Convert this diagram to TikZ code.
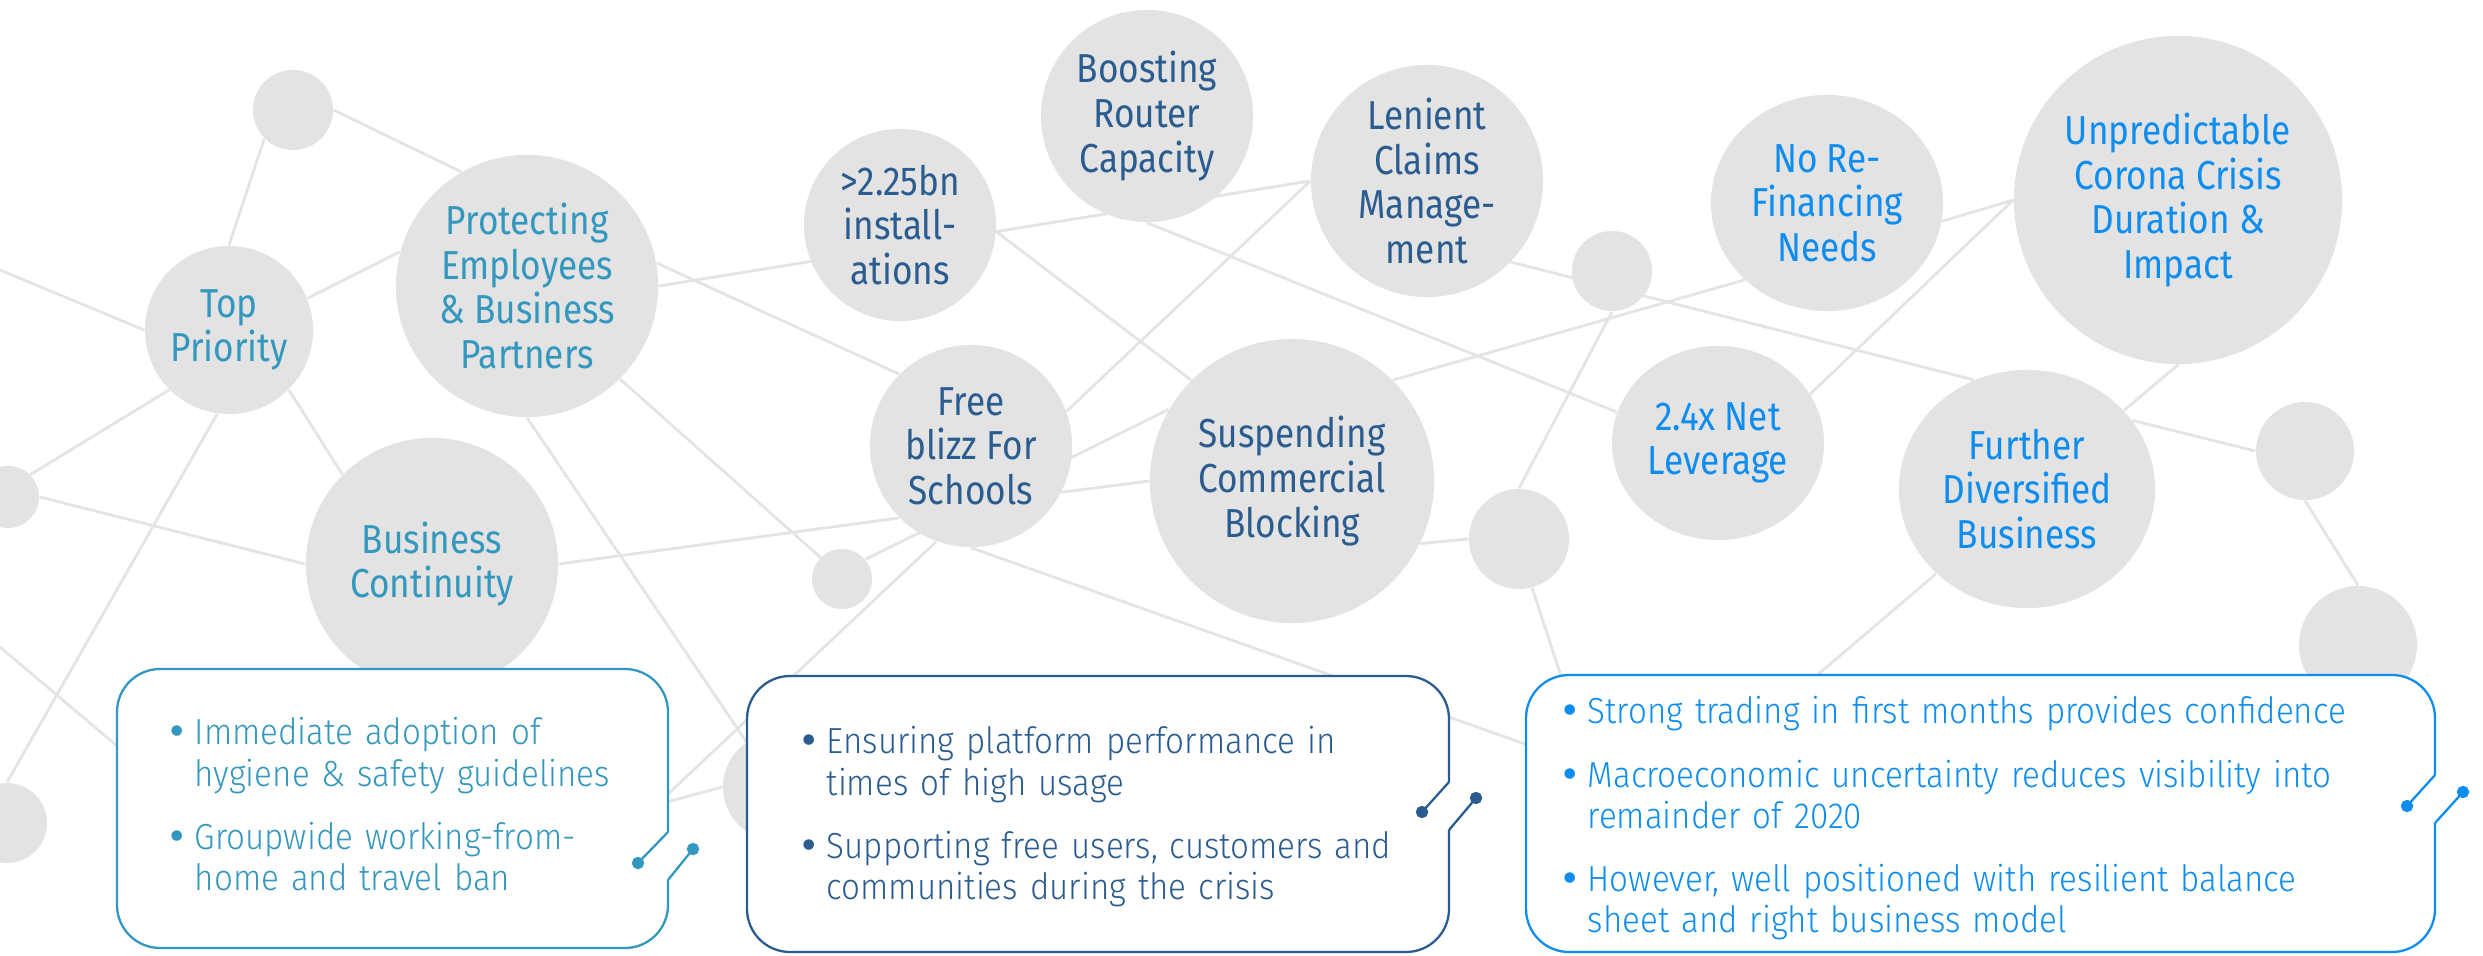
\documentclass[tikz,border=0pt]{standalone}
\usepackage{fontspec}
\setmainfont{Fira Sans}[UprightFont={* Light},FakeStretch=0.915]
\newfontfamily\bubfont{Fira Sans}[FakeStretch=0.87]
\newfontfamily\dotfont{DejaVu Sans}
\usetikzlibrary{shapes.geometric,backgrounds}
\definecolor{cteal}{HTML}{3497BD}
\definecolor{cnavy}{HTML}{2B5C8F}
\definecolor{cazure}{HTML}{0E8DEE}
\definecolor{cbub}{HTML}{E3E3E3}
\definecolor{clink}{HTML}{E4E4E4}
% bullet line with hanging indent, gap between bullets
\newcommand\bitem[1]{\hangindent=0.28cm\hangafter=1\noindent\makebox[0.28cm][l]{\dotfont\textbullet}#1\par}
\newcommand\bgap{\vspace{0.22cm}}
\tikzset{
 bub/.style={ellipse, fill=cbub, inner sep=-6mm, minimum size=#1, align=center,
 font=\bubfont\fontsize{11.5}{12.7}\selectfont},
 lnk/.style={draw=clink, line width=0.8pt},
 frame/.style={draw=#1, fill=white, line width=0.65pt, rounded corners=0.43cm},
 plug/.style={draw=#1, fill=#1, line width=0.65pt},
 btxt/.style={anchor=north west, inner sep=0pt, text width=9cm,
 font=\fontsize{10.3}{11.7}\selectfont},
}

\begin{document}
\begin{tikzpicture}[x=0.01cm, y=-0.01cm]
 \useasboundingbox (0,0) rectangle (2483,955);
 % bubbles, left group
 \node[bub=0.8cm] (S0) at (293,110) {};
 \node[bub=1.68cm, text=cteal] (TP) at (229,330) {Top\\Priority};
 \node[bub=2.62cm, text=cteal] (PE) at (527,286) {Protecting\\Employees\\\& Business\\Partners};
 \node[bub=2.52cm, text=cteal] (BC) at (432,564) {Business\\Continuity};
 \node[bub=0.62cm] (LS) at (8,497) {};
 \node[bub=0.8cm] (BL) at (7,823) {};
 % bubbles, middle group
 \node[bub=1.92cm, text=cnavy] (IN) at (900,225) {>2.25bn\\install-\\ations};
 \node[bub=2.12cm, text=cnavy] (BR) at (1147,116) {Boosting\\Router\\Capacity};
 \node[bub=2.32cm, text=cnavy] (LC) at (1427,181) {Lenient\\Claims\\Manage-\\ment};
 \node[bub=2.02cm, text=cnavy] (FB) at (971,446) {Free\\blizz For\\Schools};
 \node[bub=2.84cm, text=cnavy] (SC) at (1292,481) {Suspending\\Commercial\\Blocking};
 \node[bub=0.6cm] (S1) at (842,579) {};
 \node[bub=1.08cm] (H2) at (777,787) {};
 \node[bub=1cm] (M) at (1519,539) {};
 \node[bub=0.8cm] (S2) at (1612,271) {};
 % bubbles, right group
 \node[bub=2.2cm, minimum width=2.32cm, minimum height=2.16cm, text=cazure] (NR) at (1827,203) {No Re-\\Financing\\Needs};
 \node[bub=3.28cm, text=cazure] (UC) at (2178,200) {Unpredictable\\Corona Crisis\\Duration \&\\Impact};
 \node[bub=2cm, minimum width=2.12cm, minimum height=1.94cm, text=cazure] (NL) at (1718,443) {2.4x Net\\Leverage};
 \node[bub=2.4cm, minimum width=2.56cm, minimum height=2.38cm, text=cazure] (FD) at (2027,489) {Further\\Diversified\\Business};
 \node[bub=0.98cm] (R1) at (2305,451) {};
 \node[bub=1.18cm] (R2) at (2358,645) {};

 % loose ends
 \coordinate (w1) at (0,270);
 \coordinate (w2) at (0,647);
 \coordinate (h1) at (200,816);
 \coordinate (h2) at (600,858);
 \coordinate (h3) at (560,831);
 \coordinate (h4) at (1700,806);
 \coordinate (h5) at (1600,795);
 \coordinate (h6) at (1700,775);

 \begin{scope}[on background layer, every path/.style={lnk}]
 \draw (w1) -- (TP.west);
 \draw (S0.225) -- (TP.north);
 \draw (S0.east) -- (PE.120);
 \draw (TP.22) -- (PE.165);
 \draw (TP.south west) -- (LS.north east);
 \draw (TP.south east) -- (BC.north west);
 \draw (TP.262) -- (BL.north);
 \draw (LS.east) -- (BC.west);
 \draw (w2) -- (h1);
 \draw (PE.east) -- (LC.west);
 \draw (PE.10) -- (FB.north west);
 \draw (PE.south east) -- (S1.north west);
 \draw (PE.south) -- (H2);
 \draw (BC.east) -- (FB.south west);
 \draw (FB.250) -- (h2);
 \draw (H2.west) -- (h3);
 \draw (IN.-4) -- (SC.north west);
 \draw (FB.20) -- (LC.west);
 \draw (BR.south) -- (NL.163);
 \draw (FB.-27) -- (SC.west);
 \draw (S1.40) -- (SC.150);
 \draw (FB.south) -- (h4);
 \draw (SC.north east) -- (NR.223);
 \draw (SC.-26) -- (M.west);
 \draw (LC.-44) -- (FD.116);
 \draw (S2.south) -- (M.north);
 \draw (M.-75) -- (h5);
 \draw (NL.28) -- (UC.west);
 \draw (NR.-9) -- (UC.west);
 \draw (FD.39) -- (UC.south);
 \draw (FD.33) -- (R1.west);
 \draw (R1.south) -- (R2.north);
 \draw (FD.223) -- (h6);
 \end{scope}

 % callout panels
 \path[frame=cteal] (668,832) -- (668,669) -- (117,669) -- (117,948) -- (668,948) -- (668,880);
 \draw[plug=cteal] (668,832) -- (638,863) circle[radius=5];
 \draw[plug=cteal] (668,880) -- (693,849) circle[radius=5];
 \path[frame=cnavy] (1449,782) -- (1449,676) -- (747,676) -- (747,952) -- (1449,952) -- (1449,830);
 \draw[plug=cnavy] (1449,782) -- (1422,812) circle[radius=5];
 \draw[plug=cnavy] (1449,830) -- (1476,798) circle[radius=5];
 \path[frame=cazure] (2435,775) -- (2435,675) -- (1526,675) -- (1526,952) -- (2435,952) -- (2435,823);
 \draw[plug=cazure] (2435,775) -- (2407,806) circle[radius=5];
 \draw[plug=cazure] (2435,823) -- (2463,792) circle[radius=5];

 \node[btxt, text=cteal] (T1) at (166,717) {%
 \bitem{Immediate adoption of\newline hygiene \& safety guidelines}\bgap
 \bitem{Groupwide working-from-\newline home and travel ban}};
 \node[btxt, text=cnavy] (T2) at (798,726) {%
 \bitem{Ensuring platform performance in\newline times of high usage}\bgap
 \bitem{Supporting free users, customers and\newline communities during the crisis}};
 \node[btxt, text=cazure] (T3) at (1559,696) {%
 \bitem{Strong trading in first months provides confidence}\bgap
 \bitem{Macroeconomic uncertainty reduces visibility into\newline remainder of 2020}\bgap
 \bitem{However, well positioned with resilient balance\newline sheet and right business model}};
\end{tikzpicture}
\end{document}
